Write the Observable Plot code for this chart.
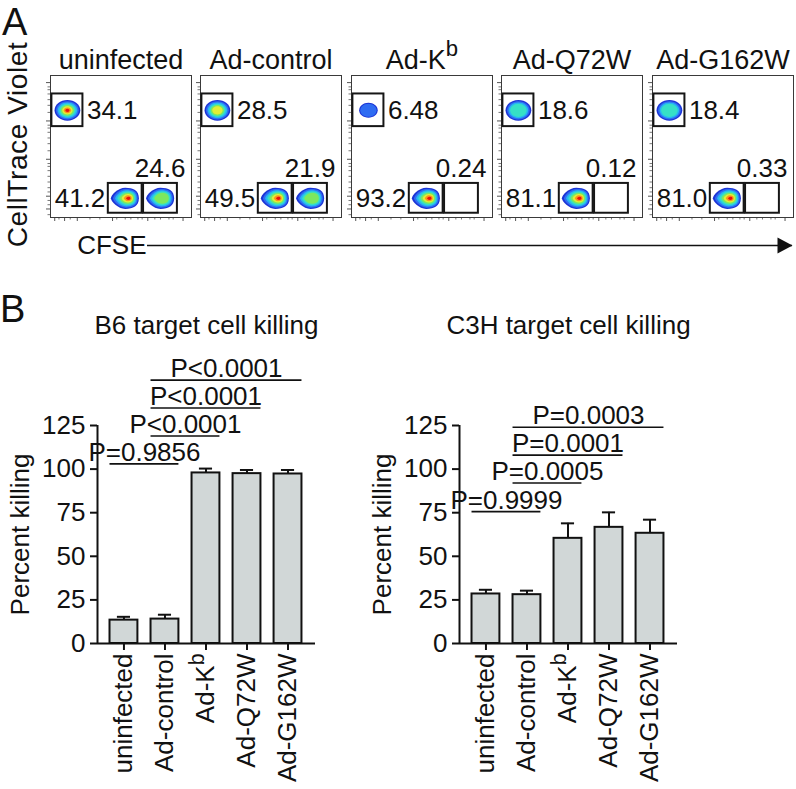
<!DOCTYPE html>
<html><head><meta charset="utf-8">
<script src="https://cdn.jsdelivr.net/npm/d3@7"></script>
<script src="https://cdn.jsdelivr.net/npm/@observablehq/plot@0.6"></script>
<style>
html,body{margin:0;padding:0;background:#fff;}
#root{position:relative;width:796px;height:789px;overflow:hidden;background:#fff;color:#111;font-family:"Liberation Sans",Arial,Helvetica,sans-serif;}
#root svg{position:absolute;overflow:visible;}
.panel{position:absolute;font-size:38px;line-height:38px;}
.bar g[aria-label^="y-axis"] line, .bar g[aria-label^="y-axis"] path,
.bar g[aria-label^="x-axis"] line, .bar g[aria-label^="x-axis"] path {stroke-width:2px;}
.bar g[aria-label^="y-axis"] text, .bar g[aria-label^="x-axis"] text {font-size:26px;}
</style></head><body>
<div id="root"><div class="panel" style="left:2px;top:3px">A</div><div class="panel" style="left:0px;top:290px">B</div></div>
<script>
// ---------- data ----------
const samples = ["uninfected", "Ad-control", "Ad-Kb", "Ad-Q72W", "Ad-G162W"];
// Panel A gate percentages (as printed)
const pctUpper    = ["34.1", "28.5", "6.48", "18.6", "18.4"];
const pctLowLeft  = ["41.2", "49.5", "93.2", "81.1", "81.0"];
const pctLowRight = ["24.6", "21.9", "0.24", "0.12", "0.33"];
// density peak level of each population (0 = blue only ... 7 = red core, -1 = empty)
const peakUpper    = [7, 5, 1, 3, 3];
const peakLowLeft  = [7, 7, 7, 7, 7];
const peakLowRight = [4, 4, -1, -1, -1];
// gates in flow units (0-100 on each axis)
const gateUpper = {x1: 1, x2: 23, y1: 64, y2: 87};
const gateLowA  = {x1: 41, x2: 65, y1: 3, y2: 24};
const gateLowB  = {x1: 66, x2: 90, y1: 3, y2: 24};
// flow axis tick values (flow units)
const flowXMajor = [3, 10, 19, 44, 69, 94];
const flowXMinor = [6, 14, 28, 35, 47, 53, 57, 62, 65, 74, 78, 84, 87];
const flowYMajor = [6, 15, 41, 68, 95];
const flowYMinor = [2, 9, 12, 18, 21, 25, 29, 33, 36, 38, 47, 52, 56, 60, 63, 65, 74, 79, 83, 87, 90, 92];

// Panel B
const groups = ["uninfected", "Ad-control", "Ad-Kb", "Ad-Q72W", "Ad-G162W"];
const yTicks = [0, 25, 50, 75, 100, 125];
const b6Mean  = [13.4, 14.0, 97.8, 97.4, 97.2];
const b6Err   = [1.9, 2.5, 2.5, 2.1, 2.3];
const c3hMean = [28.4, 28.0, 60.3, 66.6, 63.2];
const c3hErr  = [2.4, 2.3, 8.6, 8.6, 7.8];
const b6SigFrom  = [0, 1, 1, 1];
const b6SigTo    = [1, 2, 3, 4];
const b6SigLabel = ["P=0.9856", "P<0.0001", "P<0.0001", "P<0.0001"];
const b6SigLevel = [103, 119, 135, 151];
const c3hSigFrom  = [0, 1, 1, 1];
const c3hSigTo    = [1, 2, 3, 4];
const c3hSigLabel = ["P=0.9999", "P=0.0005", "P=0.0001", "P=0.0003"];
const c3hSigLevel = [75.6, 92, 108, 124];

// ---------- helpers ----------
const FONT = '"Liberation Sans", Arial, Helvetica, sans-serif';
const root = document.getElementById("root");
function place(svg, left, top, cls) {
  svg.style.left = left + "px";
  svg.style.top = top + "px";
  if (cls) svg.classList.add(cls);
  root.appendChild(svg);
  return svg;
}
function superB(svg, raise, size) {
  svg.querySelectorAll("text, tspan").forEach(t => {
    if (t.children.length === 0 && t.textContent === "Ad-Kb") {
      t.textContent = "Ad-K";
      const s = document.createElementNS("http://www.w3.org/2000/svg", "tspan");
      s.setAttribute("dy", raise);
      s.setAttribute("font-size", size);
      s.textContent = "b";
      t.appendChild(s);
    }
  });
}
const ringColors = ["#1c34d6", "#2f6cf2", "#27b6f3", "#36e0c6", "#7ee85e", "#e2ee36", "#ff9418", "#e8120a"];
function ringsFor(gate, peak, coreShift) {
  if (peak < 0) return [];
  const cx = (gate.x1 + gate.x2) / 2, cy = (gate.y1 + gate.y2) / 2;
  const sc = 0.58 + 0.14 * Math.min(peak, 3);
  return d3.range(peak + 1).map(k => ({
    x: cx + coreShift * k / 7, y: cy, rel: sc * (1 - k * 0.12), fill: ringColors[k]
  }));
}
const ovalSymbol = {draw(ctx, size) {
  const r = Math.sqrt(size / Math.PI), a = r * 1.12, b = r * 0.9, k = 0.5523;
  ctx.moveTo(a, 0);
  ctx.bezierCurveTo(a, k * b, k * a, b, 0, b);
  ctx.bezierCurveTo(-k * a, b, -a, k * b, -a, 0);
  ctx.bezierCurveTo(-a, -k * b, -k * a, -b, 0, -b);
  ctx.bezierCurveTo(k * a, -b, a, -k * b, a, 0);
  ctx.closePath();
}};
const eggSymbol = {draw(ctx, size) {
  const r = Math.sqrt(size / Math.PI), a = r * 1.15, b = r * 0.85;
  ctx.moveTo(0.95 * a, 0);
  ctx.bezierCurveTo(0.95 * a, 0.75 * b, 0.55 * a, b, 0, b);
  ctx.bezierCurveTo(-0.5 * a, b, -a, 0.3 * b, -a, 0);
  ctx.bezierCurveTo(-a, -0.3 * b, -0.5 * a, -b, 0, -b);
  ctx.bezierCurveTo(0.55 * a, -b, 0.95 * a, -0.75 * b, 0.95 * a, 0);
  ctx.closePath();
}};
const arrowHead = {draw(ctx, size) {
  const r = Math.sqrt(size / Math.PI);
  ctx.moveTo(r, 0); ctx.lineTo(-r, -r * 1.07); ctx.lineTo(-r, r * 1.07); ctx.closePath();
}};

// ---------- Panel A ----------
const FL = 10, FT = 42;
samples.forEach((s, i) => {
  const ovals = ringsFor(gateUpper, peakUpper[i], 0);
  const eggs = [...ringsFor(gateLowA, peakLowLeft[i], 2.2), ...ringsFor(gateLowB, peakLowRight[i], 1.5)];
  const svg = Plot.plot({
    width: 161, height: 196, marginLeft: FL, marginRight: 10, marginTop: FT, marginBottom: 12,
    x: {domain: [0, 100], axis: null}, y: {domain: [0, 100], axis: null},
    r: {type: "identity"}, color: {type: "identity"},
    style: {fontFamily: FONT, fontSize: "26px", background: "transparent", overflow: "visible", color: "#111"},
    marks: [
      Plot.ruleY(flowYMajor, {y: d => d, x1: 0, x2: 0, insetLeft: -4, stroke: "#555"}),
      Plot.ruleY(flowYMinor, {y: d => d, x1: 0, x2: 0, insetLeft: -2.5, stroke: "#777"}),
      Plot.ruleX(flowXMajor, {x: d => d, y1: 0, y2: 0, insetBottom: -4, stroke: "#555"}),
      Plot.ruleX(flowXMinor, {x: d => d, y1: 0, y2: 0, insetBottom: -2.5, stroke: "#777"}),
      Plot.frame({stroke: "#3a3a3a", strokeWidth: 1}),
      Plot.dot(ovals, {x: "x", y: "y", r: d => d.rel * 11.5, fill: "fill", symbol: ovalSymbol}),
      Plot.dot(eggs, {x: "x", y: "y", r: d => d.rel * 12.5, fill: "fill", symbol: eggSymbol}),
      Plot.rect([gateUpper, gateLowA, gateLowB], {x1: "x1", x2: "x2", y1: "y1", y2: "y2", fill: "none", stroke: "#161616", strokeWidth: 2}),
      Plot.text([pctUpper[i]], {text: d => d, x: gateUpper.x2, y: (gateUpper.y1 + gateUpper.y2) / 2, dx: 4, textAnchor: "start"}),
      Plot.text([pctLowLeft[i]], {text: d => d, x: gateLowA.x1, y: (gateLowA.y1 + gateLowA.y2) / 2, dx: -3, textAnchor: "end"}),
      Plot.text([pctLowRight[i]], {text: d => d, x: gateLowB.x2, y: gateLowB.y2, dx: 8, dy: -6, textAnchor: "end", lineAnchor: "bottom"}),
      Plot.text([s], {text: d => d, frameAnchor: "top", dy: -7, lineAnchor: "bottom", fontSize: 27})
    ]
  });
  superB(svg, "-0.55em", "0.82em");
  place(svg, 50 + i * 150.4 - FL, 75 - FT);
});

// y label for panel A
place(Plot.plot({
  width: 32, height: 180, margin: 0,
  style: {fontFamily: FONT, fontSize: "28px", letterSpacing: "0.6px", background: "transparent", overflow: "visible", color: "#111"},
  marks: [Plot.text(["CellTrace Violet"], {text: d => d, frameAnchor: "left", textAnchor: "middle", dx: 26, rotate: -90, lineAnchor: "bottom"})]
}), 0, 54);

// CFSE arrow
place(Plot.plot({
  width: 796, height: 40, marginLeft: 147, marginRight: 4, marginTop: 0, marginBottom: 0,
  y: {domain: [-1, 1], axis: null},
  style: {fontFamily: FONT, fontSize: "26px", background: "transparent", overflow: "visible", color: "#111"},
  marks: [
    Plot.ruleY([0], {stroke: "#111", strokeWidth: 1.6}),
    Plot.dot(["CFSE"], {frameAnchor: "right", dx: -7.5, r: 7.5, symbol: arrowHead, fill: "#111"}),
    Plot.text(["CFSE"], {text: d => d, frameAnchor: "left", textAnchor: "end", dx: -1})
  ]
}), 0, 225);

// ---------- Panel B ----------
const xDomain = [-0.645, 4.67];
const barHalf = 0.34, capHalf = 0.16;
function barChart(title, means, errs, sFrom, sTo, sLabel, sLevel) {
  const data = groups.map((g, i) => ({i, g, mean: means[i], err: errs[i]}));
  const sig = sLabel.map((l, k) => ({from: sFrom[k], to: sTo[k], label: l, level: sLevel[k]}));
  const svg = Plot.plot({
    width: 330, height: 449, marginLeft: 97, marginRight: 15, marginTop: 85, marginBottom: 146,
    x: {domain: xDomain, ticks: groups.map((g, i) => i), tickFormat: i => groups[i], tickRotate: -90, tickSize: 7, tickPadding: 3, label: null},
    y: {domain: [0, 125], ticks: yTicks, tickSize: 7, tickPadding: 5, label: null},
    style: {fontFamily: FONT, fontSize: "26px", background: "transparent", overflow: "visible", color: "#111"},
    marks: [
      Plot.ruleX(data, {x: "i", y1: "mean", y2: d => d.mean + d.err, stroke: "#111", strokeWidth: 2}),
      Plot.ruleY(data, {y: d => d.mean + d.err, x1: d => d.i - capHalf, x2: d => d.i + capHalf, stroke: "#111", strokeWidth: 2}),
      Plot.rectY(data, {x1: d => d.i - barHalf, x2: d => d.i + barHalf, y1: 0, y2: "mean", fill: "#d1d7d7", stroke: "#111", strokeWidth: 2}),
      Plot.ruleY([0], {stroke: "#111", strokeWidth: 2}),
      Plot.ruleX([xDomain[0]], {y1: 0, y2: 125, stroke: "#111", strokeWidth: 2}),
      Plot.ruleY(sig, {y: "level", x1: d => d.from - barHalf, x2: d => d.to + barHalf, stroke: "#111", strokeWidth: 1.6}),
      Plot.text(sig, {x: d => (d.from + d.to) / 2, y: "level", text: "label", dy: -3, lineAnchor: "bottom"}),
      Plot.text([title], {text: d => d, frameAnchor: "top", dy: -92, lineAnchor: "bottom"}),
      Plot.text(["Percent killing"], {text: d => d, frameAnchor: "left", textAnchor: "middle", rotate: -90, dx: -69, lineAnchor: "bottom"})
    ]
  });
  superB(svg, "-0.5em", "0.82em");
  return svg;
}
place(barChart("B6 target cell killing", b6Mean, b6Err, b6SigFrom, b6SigTo, b6SigLabel, b6SigLevel), 0, 340, "bar");
place(barChart("C3H target cell killing", c3hMean, c3hErr, c3hSigFrom, c3hSigTo, c3hSigLabel, c3hSigLevel), 362, 340, "bar");
</script></body></html>
